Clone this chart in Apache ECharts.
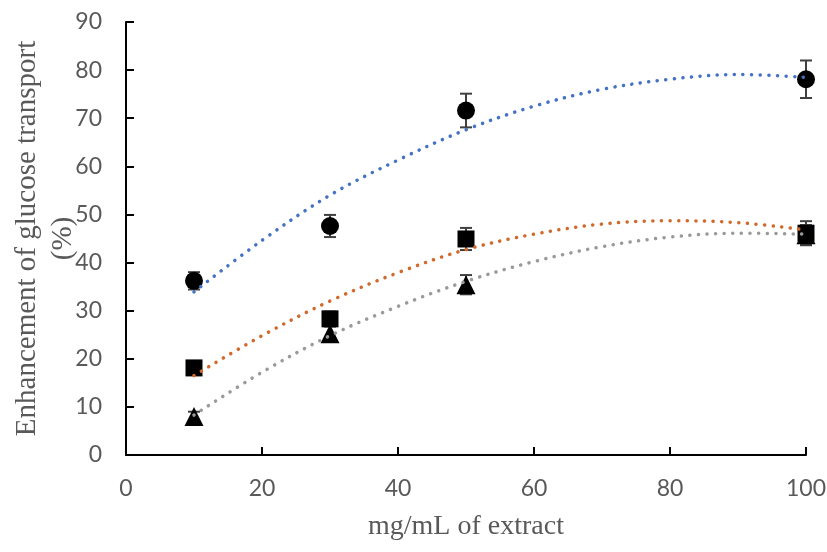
<!DOCTYPE html>
<html>
<head>
<meta charset="utf-8">
<script src="https://cdn.jsdelivr.net/npm/echarts@6/dist/echarts.min.js"></script>
<style>
html,body{margin:0;padding:0;background:#fff;}
#chart{width:827px;height:552px;}
</style>
</head>
<body>
<div id="chart"></div>
<script>
// Measured points
const xValues = [10, 30, 50, 100];
const circleMeans = [36.2, 47.6, 71.6, 78.1];
const circleErr = [1.8, 2.3, 3.5, 3.9];
const squareMeans = [18.1, 28.3, 44.9, 46.1];
const squareErr = [1.0, 1.5, 2.3, 2.5];
const triangleMeans = [8.0, 25.2, 35.4, 45.8];
const triangleErr = [1.0, 1.5, 2.0, 2.0];

// Trendlines
const trendX = [10, 20, 30, 40, 50, 60, 70, 80, 90, 100];
const trendBlue = [33.9, 44.6, 54.0, 61.3, 67.6, 72.5, 76.0, 78.1, 79.1, 78.5];
const trendOrange = [16.5, 24.8, 32.0, 37.9, 42.7, 45.9, 48.0, 48.7, 48.3, 46.8];
const trendGray = [8.3, 17.2, 24.8, 30.9, 36.1, 40.2, 43.3, 45.3, 46.1, 45.9];

// Axis ticks
const xMin = 0, xMax = 100, xStep = 20;
const yMin = 0, yMax = 90, yStep = 10;

const chart = echarts.init(document.getElementById('chart'));

function pairs(xs, ys) { return xs.map((x, i) => [x, ys[i]]); }
function errData(xs, ys, es) { return xs.map((x, i) => [x, ys[i] - es[i], ys[i] + es[i]]); }

function errSeries(xs, ys, es) {
  return {
    type: 'custom',
    z: 1,
    data: errData(xs, ys, es),
    renderItem: function (params, api) {
      const x = api.value(0);
      const lo = api.coord([x, api.value(1)]);
      const hi = api.coord([x, api.value(2)]);
      const hw = 6;
      const st = { stroke: '#404040', lineWidth: 2 };
      return {
        type: 'group',
        children: [
          { type: 'line', shape: { x1: lo[0], y1: lo[1], x2: hi[0], y2: hi[1] }, style: st },
          { type: 'line', shape: { x1: lo[0] - hw, y1: lo[1], x2: lo[0] + hw, y2: lo[1] }, style: st },
          { type: 'line', shape: { x1: hi[0] - hw, y1: hi[1], x2: hi[0] + hw, y2: hi[1] }, style: st }
        ]
      };
    }
  };
}

function trend(ys, color) {
  return {
    type: 'line',
    z: 3,
    smooth: 0.35,
    symbol: 'none',
    data: pairs(trendX, ys),
    lineStyle: { color: color, width: 3.5, type: [0.1, 8.5], cap: 'round' }
  };
}

function scatter(ys, symbol, size) {
  return {
    type: 'scatter',
    z: 2,
    symbol: symbol,
    symbolSize: size,
    data: pairs(xValues, ys),
    itemStyle: { color: '#000', opacity: 1 }
  };
}

const tickFont = { fontFamily: 'Lato', fontSize: 23, color: '#595959' };

chart.setOption({
  animation: false,
  backgroundColor: '#fff',
  grid: { left: 126, right: 21, top: 22, bottom: 97, containLabel: false, outerBoundsMode: 'none' },
  xAxis: {
    type: 'value', min: xMin, max: xMax, interval: xStep,
    name: 'mg/mL of extract',
    nameLocation: 'middle', nameGap: 58, nameMoveOverlap: false,
    nameTextStyle: { fontFamily: 'Liberation Serif', fontSize: 28, color: '#595959' },
    axisLine: { lineStyle: { color: '#000', width: 2 } },
    axisTick: { inside: true, length: 8, lineStyle: { color: '#000', width: 2 } },
    axisLabel: Object.assign({ margin: 22 }, tickFont),
    splitLine: { show: false }
  },
  yAxis: {
    type: 'value', min: yMin, max: yMax, interval: yStep,
    name: 'Enhancement of glucose transport\n(%)',
    nameLocation: 'middle', nameGap: 45, nameMoveOverlap: false,
    nameTextStyle: { fontFamily: 'Liberation Serif', fontSize: 29, color: '#595959', lineHeight: 36 },
    axisLine: { show: true, lineStyle: { color: '#000', width: 2 } },
    axisTick: { show: true, inside: true, length: 8, lineStyle: { color: '#000', width: 2 } },
    axisLabel: Object.assign({ margin: 24 }, tickFont),
    splitLine: { show: false }
  },
  series: [
    errSeries(xValues, circleMeans, circleErr),
    errSeries(xValues, squareMeans, squareErr),
    errSeries(xValues, triangleMeans, triangleErr),
    scatter(circleMeans, 'circle', 18),
    scatter(squareMeans, 'rect', 17),
    scatter(triangleMeans, 'triangle', 19),
    trend(trendBlue, '#4472C4'),
    trend(trendOrange, '#D0692A'),
    trend(trendGray, '#9A9A9A')
  ]
});
</script>
</body>
</html>
